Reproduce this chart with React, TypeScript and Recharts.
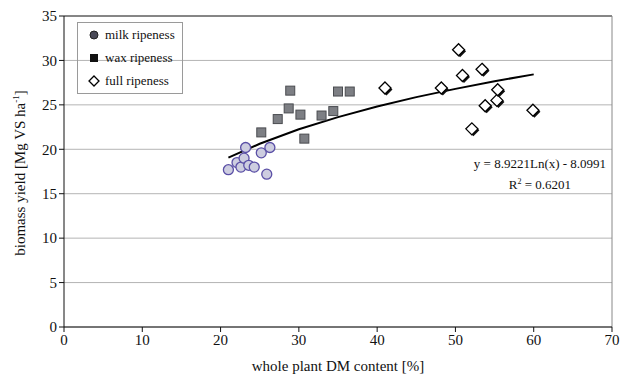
import React from "react";
import { ScatterChart, Scatter, XAxis, YAxis, CartesianGrid, ReferenceLine } from "recharts";

// milk ripeness (circles)
const milkDM = [21.0, 22.1, 22.6, 23.0, 23.2, 23.6, 24.3, 25.2, 25.9, 26.3];
const milkYield = [17.7, 18.5, 18.0, 19.0, 20.2, 18.2, 18.0, 19.6, 17.2, 20.2];

// wax ripeness (squares)
const waxDM = [25.2, 27.3, 28.7, 28.9, 30.2, 30.7, 32.9, 34.4, 35.0, 36.5];
const waxYield = [21.9, 23.4, 24.6, 26.6, 23.9, 21.2, 23.8, 24.3, 26.5, 26.5];

// full ripeness (diamonds)
const fullDM = [41.0, 48.2, 50.4, 50.9, 52.1, 53.4, 53.8, 55.3, 55.4, 59.9];
const fullYield = [26.9, 26.9, 31.2, 28.3, 22.3, 29.0, 24.9, 25.5, 26.7, 24.4];

// logarithmic trend line
const trendDM = [21, 25, 30, 35, 40, 45, 50, 55, 60];
const trendYield = [19.06, 20.62, 22.25, 23.62, 24.81, 25.87, 26.8, 27.66, 28.43];

const xTicks = [0, 10, 20, 30, 40, 50, 60, 70];
const yTicks = [0, 5, 10, 15, 20, 25, 30, 35];

const zip = (xs: number[], ys: number[]) => xs.map((x, i) => ({ x, y: ys[i] }));

const milkData = zip(milkDM, milkYield);
const waxData = zip(waxDM, waxYield);
const fullData = zip(fullDM, fullYield);
const trendData = zip(trendDM, trendYield);

const serif = "Times New Roman, Liberation Serif, serif";

const Circle = (p: any) => (
    <circle cx={p.cx} cy={p.cy} r={5} fill="#cdcde0" stroke="#5a4fa6" strokeWidth={1.3} />
);

const Square = (p: any) => (
    <rect x={p.cx - 4.5} y={p.cy - 4.5} width={9} height={9} fill="#7d7f84" stroke="#4a4c50" strokeWidth={1} />
);

const Diamond = (p: any) => {
    const d = (cx: number, cy: number) => `${cx},${cy - 6} ${cx + 6},${cy} ${cx},${cy + 6} ${cx - 6},${cy}`;
    return (
        <g>
            <polygon points={d(p.cx + 1.5, p.cy + 1.5)} fill="#111" />
            <polygon points={d(p.cx, p.cy)} fill="#fff" stroke="#000" strokeWidth={1.3} />
        </g>
    );
};

const NoShape = () => null;

export default function App() {
    return (
        <div style={{ position: "absolute", left: 0, top: 0, width: 620, height: 378, background: "#fff", fontFamily: serif }}>
            <ScatterChart width={620} height={378} margin={{ top: 16, right: 8, bottom: 21, left: 24 }} style={{ fontFamily: serif }}>
                <CartesianGrid horizontal vertical={false} stroke="#b4b4b4" strokeWidth={1} />
                <XAxis
                    type="number"
                    dataKey="x"
                    domain={[0, 70]}
                    ticks={xTicks}
                    height={30}
                    stroke="#111"
                    tickSize={5}
                    tick={{ fill: "#111", fontSize: 15, fontFamily: serif }}
                    label={{ value: "whole plant DM content [%]", position: "insideBottom", offset: -14, fill: "#111", fontSize: 15, fontFamily: serif }}
                />
                <YAxis
                    type="number"
                    dataKey="y"
                    domain={[0, 35]}
                    ticks={yTicks}
                    width={40}
                    stroke="#111"
                    tickSize={5}
                    tick={{ fill: "#111", fontSize: 15, fontFamily: serif }}
                />
                <ReferenceLine y={35} stroke="#333" />
                <ReferenceLine x={70} stroke="#888" />
                <Scatter data={trendData} line={{ stroke: "#000", strokeWidth: 2 }} shape={NoShape} isAnimationActive={false} />
                <Scatter data={waxData} shape={Square} isAnimationActive={false} />
                <Scatter data={milkData} shape={Circle} isAnimationActive={false} />
                <Scatter data={fullData} shape={Diamond} isAnimationActive={false} />
            </ScatterChart>

            <div
                style={{
                    position: "absolute",
                    left: 20,
                    top: 173,
                    transform: "translate(-50%, -50%) rotate(-90deg)",
                    whiteSpace: "nowrap",
                    fontSize: 15,
                    color: "#111",
                }}
            >
                biomass yield [Mg VS ha<sup style={{ fontSize: 9 }}>-1</sup>]
            </div>

            <div
                style={{
                    position: "absolute",
                    left: 77,
                    top: 22,
                    width: 106,
                    height: 72,
                    border: "1px solid #9a9a9a",
                    boxSizing: "border-box",
                    fontSize: 13,
                    color: "#111",
                }}
            >
                {[
                    { label: "milk ripeness", mark: <circle cx={6} cy={6} r={4} fill="#4a4a58" stroke="#222" /> },
                    { label: "wax ripeness", mark: <rect x={2} y={2} width={8} height={8} fill="#111" /> },
                    { label: "full ripeness", mark: <polygon points="6,1 11,6 6,11 1,6" fill="#fff" stroke="#000" strokeWidth={1.3} /> },
                ].map((it, i) => (
                    <div key={i} style={{ position: "absolute", left: 10, top: 3 + i * 23, height: 18, display: "flex", alignItems: "center" }}>
                        <svg width={12} height={12}>{it.mark}</svg>
                        <span style={{ marginLeft: 5 }}>{it.label}</span>
                    </div>
                ))}
            </div>

            <div style={{ position: "absolute", left: 471, top: 155, width: 138, textAlign: "center", fontSize: 13, lineHeight: "18px", color: "#111" }}>
                <div>y = 8.9221Ln(x) - 8.0991</div>
                <div>
                    R<sup style={{ fontSize: 8 }}>2</sup> = 0.6201
                </div>
            </div>
        </div>
    );
}
